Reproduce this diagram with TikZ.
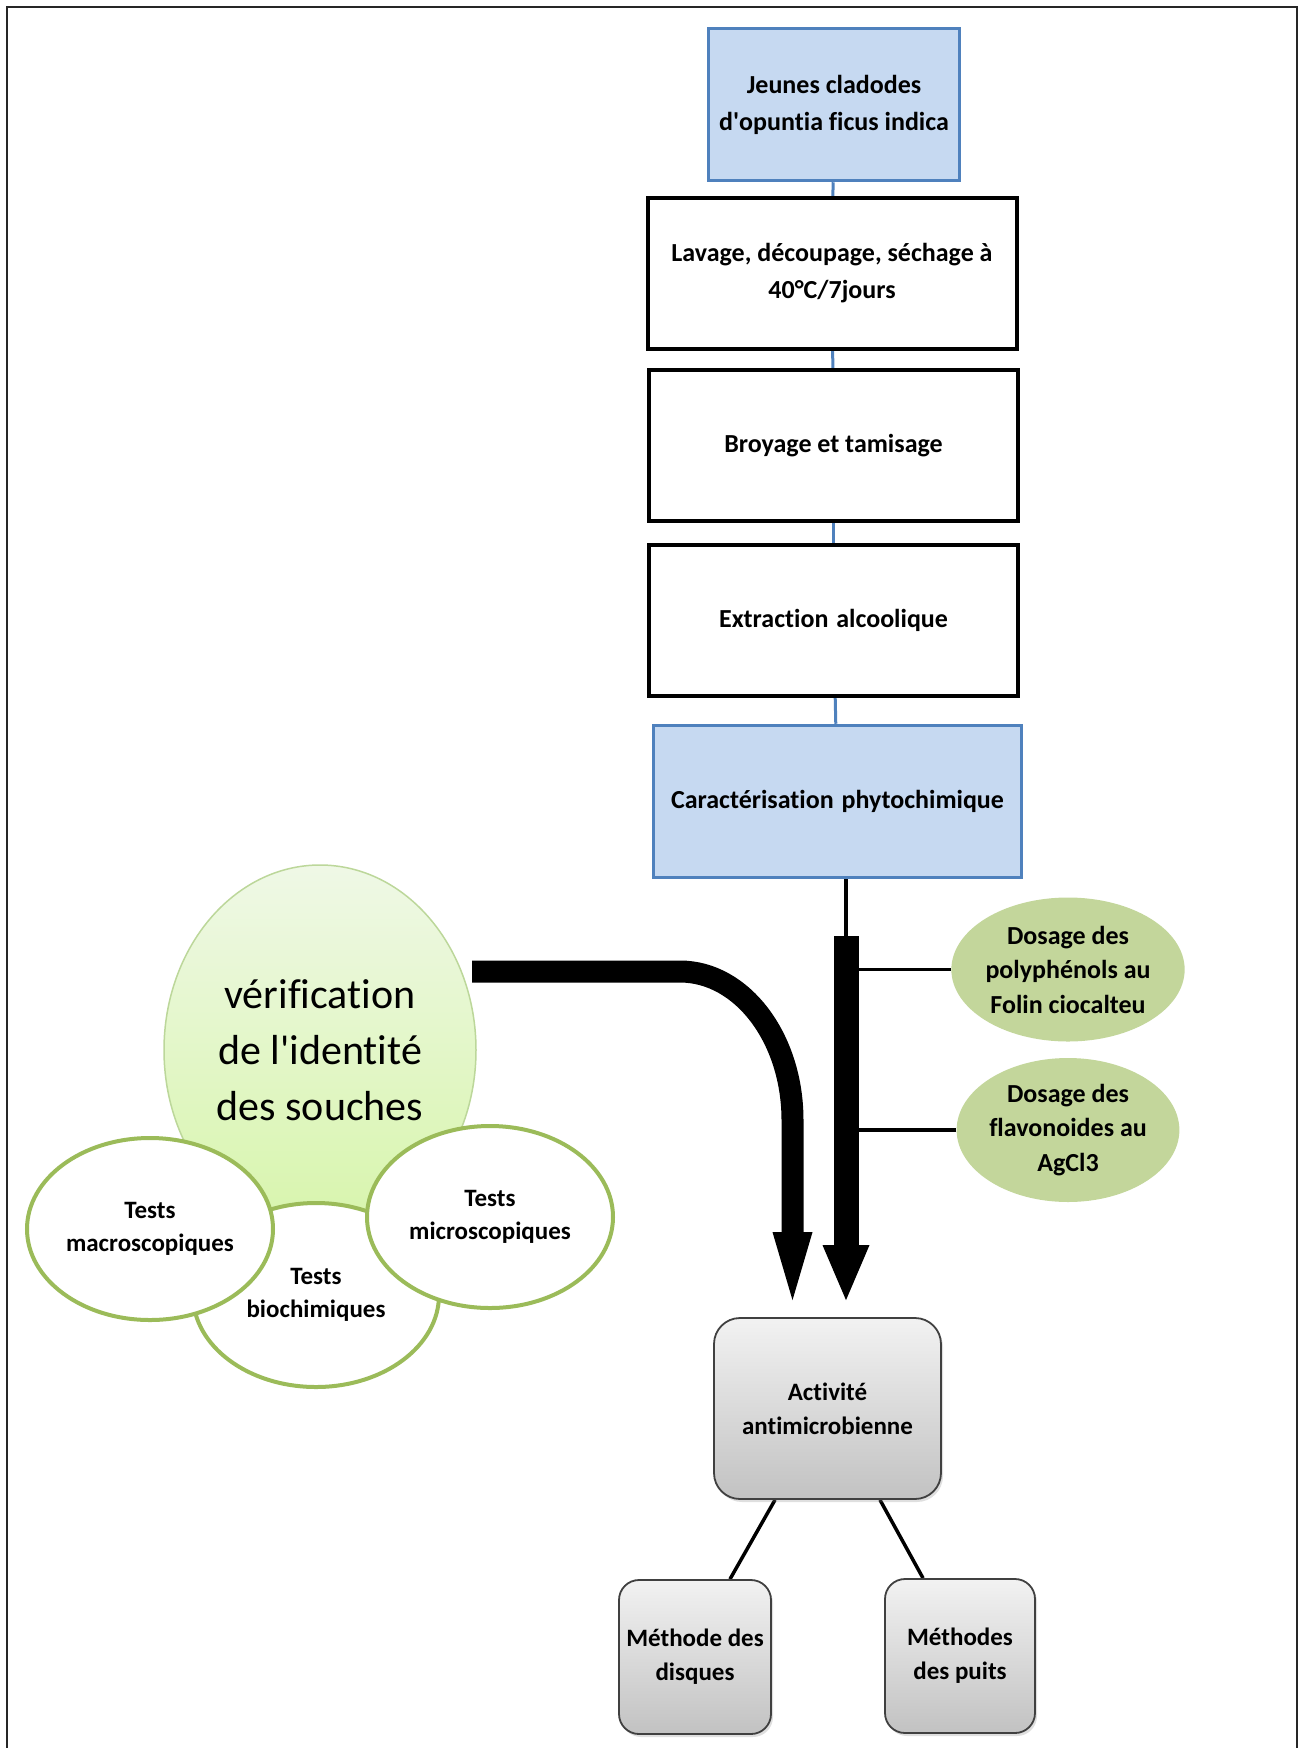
\documentclass[tikz,border=0pt]{standalone}
\usepackage{fontspec}
\setmainfont{Carlito}[Ligatures={NoCommon}]
\usetikzlibrary{shapes.geometric,arrows.meta,shadows,calc,backgrounds}
\definecolor{boxblue}{HTML}{C6D9F1}
\definecolor{edgeblue}{HTML}{4F81BD}
\definecolor{olivefill}{HTML}{C3D69B}
\definecolor{oliveedge}{HTML}{9BBB59}
\definecolor{lightedge}{HTML}{BCD79A}
\definecolor{gtop}{HTML}{EFF8E6}
\definecolor{gbot}{HTML}{D7F5AB}
\definecolor{graytop}{HTML}{F2F2F2}
\definecolor{graybot}{HTML}{C2C2C2}
\begin{document}
\begin{tikzpicture}[x=1pt,y=-1pt,
 lbl/.style={font=\fontsize{26}{37}\selectfont\bfseries, align=center, inner sep=0pt},
 stepbox/.style={lbl, draw=black, line width=4pt, fill=white, minimum width=369pt, minimum height=151pt},
 bluebox/.style={lbl, draw=edgeblue, line width=3.5pt, fill=boxblue, minimum height=152pt},
 dosage/.style={ellipse, fill=olivefill, inner sep=0pt, minimum width=220pt, minimum height=144pt, font=\fontsize{26}{34.5}\selectfont\bfseries, align=center},
 testcircle/.style={ellipse, draw=oliveedge, line width=4pt, fill=white, inner sep=0pt, minimum width=246pt, minimum height=182pt, font=\fontsize{25}{33}\selectfont\bfseries, align=center},
 graybox/.style={rounded corners=26pt, draw=black!75, line width=1.8pt, top color=graytop, bottom color=graybot, drop shadow={opacity=0.25, shadow xshift=2pt, shadow yshift=-3pt}, align=center, font=\fontsize{25}{34}\selectfont\bfseries, inner sep=0pt},
 blueline/.style={draw=edgeblue, line width=3pt},
 thinline/.style={draw=black, line width=3.5pt},
]
\useasboundingbox (0,0) rectangle (1305,1748);
\draw[line width=2.5pt, black!85] (7,1748) -- (7,7) -- (1297,7) -- (1297,1748);

% top column
\node[bluebox, minimum width=251pt] (b1) at (834,104.5) {Jeunes cladodes\\d\textquotesingle opuntia ficus indica};
\node[stepbox] (b2) at (832,273.5) {Lavage, découpage, séchage à\\40°C/7jours};
\node[stepbox] (b3) at (833.5,445.5) {Broyage et tamisage};
\node[stepbox] (b4) at (833.5,620.5) {Extraction\hspace{0.3em}alcoolique};
\node[bluebox, minimum width=368pt] (b5) at (837.5,801.5) {Caractérisation\hspace{0.3em}phytochimique};

% dosage ellipses
\node[dosage] (dos1) at (1068,969.5) {Dosage des\\polyphénols au\\Folin ciocalteu};
\node[dosage] (dos2) at (1068,1130) {Dosage des\\flavonoides au\\AgCl3};

% left cluster
\node[ellipse, draw=lightedge, line width=1.5pt, top color=gtop, bottom color=gbot, minimum width=312pt, minimum height=370pt, inner sep=0pt, align=center, font=\fontsize{42}{56}\selectfont] (ver) at (320,1050) {vérification\\de l\textquotesingle identité\\des souches};
\node[testcircle, minimum height=184pt] (bio) at (316,1295) {Tests\\biochimiques};
\node[testcircle] (macro) at (150,1229) {Tests\\macroscopiques};
\node[testcircle] (micro) at (490,1217) {Tests\\microscopiques};

% bottom boxes
\node[graybox, minimum width=227pt, minimum height=181pt] (act) at (827.5,1408.5) {Activité\\antimicrobienne};
\node[graybox, rounded corners=20pt, minimum width=152pt, minimum height=154pt] (disq) at (695,1657) {Méthode des\\disques};
\node[graybox, rounded corners=20pt, minimum width=150pt, minimum height=154pt] (puits) at (960,1656) {Méthodes\\des puits};

% coordinates
\coordinate (barTop) at (846,936);
\coordinate (barTip) at ([xshift=18.5pt,yshift=17pt]act.north);
\coordinate (curveStart) at (472,971.5);
\coordinate (curveTip) at ([xshift=-35pt,yshift=17pt]act.north);

\begin{scope}[on background layer]
\draw[blueline] (b1) -- (b2);
\draw[blueline] (b2) -- (b3);
\draw[blueline] (b3) -- (b4);
\draw[blueline] (b4) -- (b5);
\draw[thinline] (b5.south -| barTop) -- (barTop);
\draw[thinline] (dos1.west) -- (dos1.west -| barTop);
\draw[thinline] (dos2.west) -- (dos2.west -| barTop);
\draw[thinline] ([xshift=-52.5pt]act.south) -- ([xshift=35pt]disq.north);
\draw[thinline] ([xshift=52.5pt]act.south) -- ([xshift=-37pt]puits.north);
\end{scope}

% block arrows
\draw[line width=25pt, -{Triangle[width=47pt,length=55pt,line width=0pt]}] (barTop) -- (barTip);
\draw[line width=22pt, -{Triangle[width=40pt,length=68pt,line width=0pt]}]
  (curveStart) -- ++(208,0) .. controls +(62,0) and +(0,-82) .. ($(curveTip)+(0,-180)$) -- (curveTip);
\end{tikzpicture}
\end{document}
